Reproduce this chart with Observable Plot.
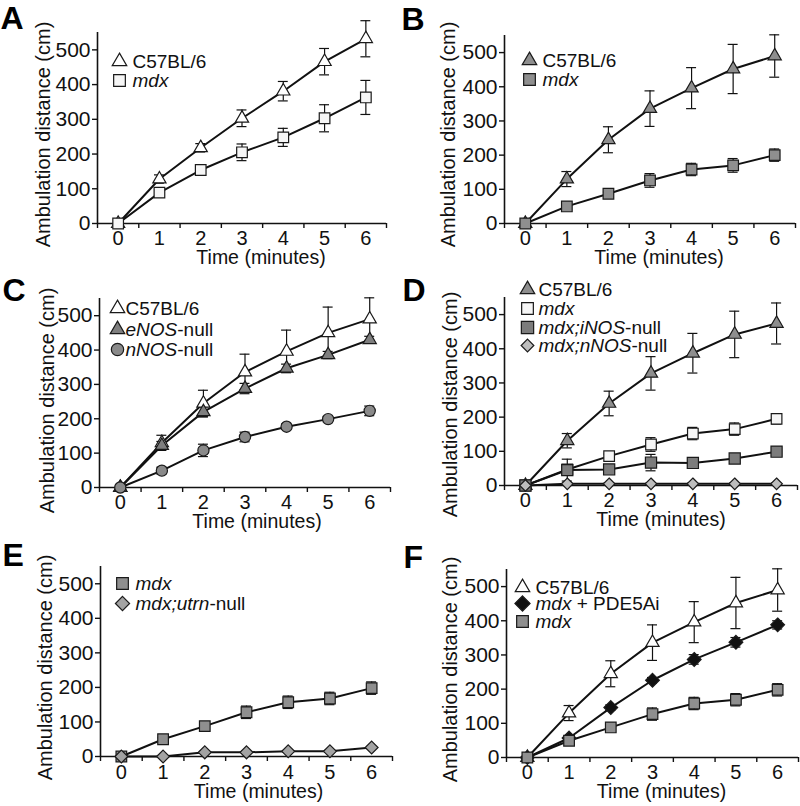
<!DOCTYPE html>
<html><head><meta charset="utf-8">
<script src="https://cdn.jsdelivr.net/npm/d3@7"></script>
<script src="https://cdn.jsdelivr.net/npm/@observablehq/plot@0.6"></script>
<style>
body{margin:0;background:#fff;}
#fig{position:relative;width:800px;height:806px;background:#fff;font-family:"Liberation Sans",Arial,sans-serif;overflow:hidden;}
.panel{position:absolute;}
.panel svg{overflow:visible;}
</style></head><body><div id="fig"></div>
<script>
// ---------- data ----------
const time = [0, 1, 2, 3, 4, 5, 6];
const yTicks = [0, 100, 200, 300, 400, 500];
const xBounds = [-0.5, 0.5, 1.5, 2.5, 3.5, 4.5, 5.5, 6.5];
const xLabel = "Time (minutes)";
const yLabel = "Ambulation distance (cm)";
const panelLetters = ["A", "B", "C", "D", "E", "F"];

// Panel A
const aWT = [0, 128, 218, 303, 381, 466, 532];
const aWTErr = [0, 12, 12, 24, 28, 38, 52];
const aMdx = [0, 89, 154, 205, 248, 303, 363];
const aMdxErr = [0, 8, 14, 24, 26, 39, 49];

// Panel B
const bWT = [0, 130, 245, 336, 396, 452, 490];
const bWTErr = [0, 22, 38, 52, 60, 72, 62];
const bMdx = [0, 50, 87, 126, 158, 170, 200];
const bMdxErr = [0, 5, 5, 20, 18, 20, 18];

// Panel C
const cWT = [0, 130, 245, 336, 396, 450, 490];
const cWTErr = [0, 22, 38, 52, 62, 75, 62];
const cENOS = [0, 122, 220, 288, 347, 386, 430];
const cENOSErr = [0, 12, 15, 15, 12, 10, 10];
const cNNOS = [0, 49, 108, 147, 177, 199, 223];
const cNNOSErr = [0, 10, 18, 14, 8, 8, 14];

// Panel D
const dWT = [0, 131, 240, 328, 387, 442, 474];
const dWTErr = [0, 21, 36, 49, 58, 68, 60];
const dMdx = [0, 47, 86, 120, 152, 165, 195];
const dMdxErr = [0, 6, 6, 20, 18, 18, 15];
const dINOS = [0, 45, 47, 67, 66, 79, 99];
const dINOSErr = [0, 32, 8, 24, 6, 6, 10];
const dNNOS = [0, 5, 5, 5, 5, 5, 5];
const dNNOSErr = [0, 2, 2, 2, 2, 2, 2];

// Panel E
const eMdx = [0, 50, 88, 128, 157, 168, 198];
const eMdxErr = [0, 4, 5, 18, 18, 18, 18];
const eUtrn = [0, 0, 12, 12, 15, 15, 26];
const eUtrnErr = [0, 3, 3, 3, 3, 3, 3];

// Panel F
const fWT = [0, 130, 245, 336, 396, 452, 490];
const fWTErr = [0, 22, 38, 52, 60, 75, 62];
const fPDE = [0, 57, 146, 226, 287, 337, 388];
const fPDEErr = [0, 6, 8, 8, 14, 14, 12];
const fMdx = [0, 49, 88, 127, 158, 169, 198];
const fMdxErr = [0, 4, 5, 18, 18, 18, 18];

// legend labels (*...* = italic)
const lblWT = "C57BL/6";
const lblMdx = "*mdx*";
const lblENOS = "*eNOS*-null";
const lblNNOS = "*nNOS*-null";
const lblINOSmdx = "*mdx;iNOS*-null";
const lblNNOSmdx = "*mdx;nNOS*-null";
const lblUtrn = "*mdx;utrn*-null";
const lblPDE = "*mdx* + PDE5Ai";

// ---------- styles ----------
const ST = {
  openTri: {symbol: "triangle", r: 4.9, fill: "#ffffff"},
  grayTri: {symbol: "triangle", r: 4.9, fill: "#8e8e8e"},
  darkTri: {symbol: "triangle", r: 4.9, fill: "#7f7f7f"},
  openSq: {symbol: "square", r: 6.0, fill: "#f6f6f6"},
  graySq: {symbol: "square", r: 6.0, fill: "#8f8f8f"},
  darkSq: {symbol: "square", r: 6.3, fill: "#7c7c7c"},
  grayCirc: {symbol: "circle", r: 5.6, fill: "#8a8a8a"},
  lightDia: {symbol: "diamond2", r: 5.2, fill: "#bdbdbd"},
  grayDia: {symbol: "diamond2", r: 5.8, fill: "#a3a3a3"},
  blackDia: {symbol: "diamond2", r: 6.2, fill: "#111111"}
};

const panels = [
  {pos: [0, 0], h: 265, m: [97, 14, 32, 42], xPad: 7, xl: [19, 27], yl: [-54, 6.5], let: [-97, -26],
   leg: {dx: 22, tx: 35, dy: [29, 48]},
   series: [{v: aWT, e: aWTErr, s: ST.openTri, label: lblWT}, {v: aMdx, e: aMdxErr, s: ST.openSq, label: lblMdx}]},
  {pos: [400, 0], h: 265, m: [104, 5, 35, 42], xPad: 7, xl: [9, 27], yl: [-56, 5], let: [-103, -28],
   leg: {dx: 25, tx: 38, dy: [25, 44]},
   series: [{v: bWT, e: bWTErr, s: ST.grayTri, label: lblWT}, {v: bMdx, e: bMdxErr, s: ST.graySq, label: lblMdx}]},
  {pos: [0, 265], h: 265, m: [99, 10, 33, 43], xPad: 7, xl: [12, 27], yl: [-52, 7.5], let: [-97, -20],
   leg: {dx: 18, tx: 26, dy: [10, 31, 51]},
   series: [{v: cWT, e: cWTErr, s: ST.openTri, label: lblWT}, {v: cENOS, e: cENOSErr, s: ST.darkTri, label: lblENOS},
            {v: cNNOS, e: cNNOSErr, s: ST.grayCirc, label: lblNNOS}]},
  {pos: [400, 265], h: 265, m: [104, 3, 32, 45], xPad: 7, xl: [10, 27], yl: [-54, 13], let: [-102, -19],
   leg: {dx: 23, tx: 34, dy: [-8, 11, 30, 48]},
   series: [{v: dWT, e: dWTErr, s: ST.grayTri, label: lblWT}, {v: dMdx, e: dMdxErr, s: ST.openSq, label: lblMdx},
            {v: dINOS, e: dINOSErr, s: ST.darkSq, label: lblINOSmdx}, {v: dNNOS, e: dNNOSErr, s: ST.lightDia, label: lblNNOSmdx}]},
  {pos: [0, 530], h: 276, m: [100, 8, 36, 50], xPad: 8, xl: [12, 28], yl: [-55, 6], let: [-98, -23],
   leg: {dx: 22, tx: 35, dy: [17, 37]},
   series: [{v: eMdx, e: eMdxErr, s: ST.graySq, label: lblMdx}, {v: eUtrn, e: eUtrnErr, s: ST.grayDia, label: lblUtrn}]},
  {pos: [400, 530], h: 276, m: [106, 2, 39, 49], xPad: 7, xl: [9, 27], yl: [-56, 6], let: [-103, -24],
   leg: {dx: 16, tx: 29, dy: [18, 34, 52]},
   series: [{v: fWT, e: fWTErr, s: ST.openTri, label: lblWT}, {v: fPDE, e: fPDEErr, s: ST.blackDia, label: lblPDE},
            {v: fMdx, e: fMdxErr, s: ST.graySq, label: lblMdx}]}
];

const INK = "#111";
const CAP = 0.12;
const fmtInt = d3.format("d");

function makePanel(p, letter) {
  const marks = [];
  // axes
  marks.push(Plot.axisY({ticks: yTicks, tickSize: 5, tickPadding: 2, tickFormat: fmtInt, fontSize: 21, label: null, strokeWidth: 1.4}));
  marks.push(Plot.axisX({ticks: time, tickSize: 0, tickPadding: p.xPad, tickFormat: fmtInt, fontSize: 20, label: null}));
  marks.push(Plot.axisX({ticks: xBounds, tickSize: 5, tickFormat: () => "", label: null, strokeWidth: 1.4}));
  marks.push(Plot.ruleX([-0.5], {stroke: INK, strokeWidth: 1.6}));
  marks.push(Plot.ruleY([0], {stroke: INK, strokeWidth: 1.6}));

  const rowsets = p.series.map(s => time.map((t, i) => ({t, v: s.v[i], e: s.e[i]})));
  // error bars
  rowsets.forEach(rows => {
    const er = rows.filter(d => d.e > 0);
    marks.push(Plot.ruleX(er, {x: "t", y1: d => Math.max(0, d.v - d.e), y2: d => d.v + d.e, stroke: INK, strokeWidth: 1.2}));
    marks.push(Plot.ruleY(er, {y: d => d.v + d.e, x1: d => d.t - CAP, x2: d => d.t + CAP, stroke: INK, strokeWidth: 1.2}));
    marks.push(Plot.ruleY(er.filter(d => d.v - d.e > 0), {y: d => d.v - d.e, x1: d => d.t - CAP, x2: d => d.t + CAP, stroke: INK, strokeWidth: 1.2}));
  });
  // lines
  rowsets.forEach(rows => marks.push(Plot.line(rows, {x: "t", y: "v", stroke: INK, strokeWidth: 2})));
  // markers
  p.series.forEach((s, k) => marks.push(Plot.dot(rowsets[k], {x: "t", y: "v", symbol: s.s.symbol, r: s.s.r, fill: s.s.fill, stroke: "#1a1a1a", strokeWidth: 1.2})));
  // legend
  p.series.forEach((s, k) => {
    marks.push(Plot.dot([s], {frameAnchor: "top-left", dx: p.leg.dx, dy: p.leg.dy[k], symbol: s.s.symbol, r: s.s.r * 1.1, fill: s.s.fill, stroke: "#1a1a1a", strokeWidth: 1.2}));
    marks.push(Plot.text([s.label], {text: d => d, frameAnchor: "top-left", dx: p.leg.tx, dy: p.leg.dy[k], textAnchor: "start", lineAnchor: "middle", fontSize: 19, fill: INK}));
  });
  // axis labels
  marks.push(Plot.text([xLabel], {text: d => d, frameAnchor: "bottom", dx: p.xl[0], dy: p.xl[1], textAnchor: "middle", lineAnchor: "top", fontSize: 19.5, fill: INK}));
  marks.push(Plot.text([yLabel], {text: d => d, frameAnchor: "left", dx: p.yl[0], dy: p.yl[1], rotate: -90, textAnchor: "middle", lineAnchor: "middle", fontSize: 20, fill: INK}));
  // panel letter
  marks.push(Plot.text([letter], {text: d => d, frameAnchor: "top-left", dx: p.let[0], dy: p.let[1], textAnchor: "start", lineAnchor: "top", fontSize: 32, fontWeight: "bold", fill: "#000"}));

  return Plot.plot({
    width: 400, height: p.h,
    marginLeft: p.m[0], marginRight: p.m[1], marginTop: p.m[2], marginBottom: p.m[3],
    x: {domain: [-0.5, 6.5]},
    y: {domain: [0, 550]},
    style: {fontFamily: '"Liberation Sans", Arial, sans-serif', fontSize: "19px", color: INK, background: "transparent", overflow: "visible"},
    marks
  });
}

function italicize(svg) {
  svg.querySelectorAll("text").forEach(t => {
    const s = t.textContent;
    if (!s.includes("*")) return;
    const parts = s.split("*");
    t.textContent = "";
    parts.forEach((part, i) => {
      if (!part) return;
      const ts = document.createElementNS("http://www.w3.org/2000/svg", "tspan");
      ts.textContent = part;
      if (i % 2 === 1) ts.setAttribute("font-style", "italic");
      t.appendChild(ts);
    });
  });
}

const fig = document.getElementById("fig");
panels.forEach((p, i) => {
  const div = document.createElement("div");
  div.className = "panel";
  div.style.left = p.pos[0] + "px";
  div.style.top = p.pos[1] + "px";
  const svg = makePanel(p, panelLetters[i]);
  italicize(svg);
  div.appendChild(svg);
  fig.appendChild(div);
});
</script></body></html>
